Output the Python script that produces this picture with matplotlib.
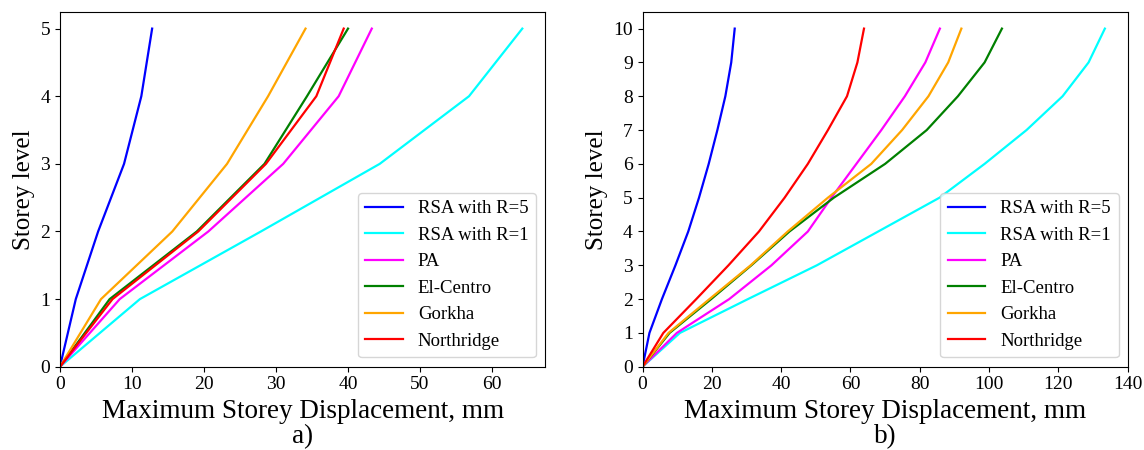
import numpy as np
import matplotlib
matplotlib.use("Agg")
import matplotlib.pyplot as plt

# ==========================================
# DATA
# ==========================================

labels = ["RSA with R=5", "RSA with R=1", "PA", "El-Centro", "Gorkha", "Northridge"]
colors = ["blue", "cyan", "magenta", "green", "orange", "red"]

storeys_5 = [0, 1, 2, 3, 4, 5]
rsa_r5_5 = [0, 2.2, 5.3, 8.9, 11.3, 12.8]
rsa_r1_5 = [0, 11.1, 27.9, 44.4, 56.8, 64.2]
pa_5 = [0, 8.3, 20.6, 31.0, 38.7, 43.3]
elcentro_5 = [0, 6.9, 19.0, 28.4, 34.3, 40.0]
gorkha_5 = [0, 5.7, 15.6, 23.2, 28.9, 34.1]
northridge_5 = [0, 7.3, 19.2, 28.6, 35.6, 39.4]

storeys_10 = [0, 1, 2, 3, 4, 5, 6, 7, 8, 9, 10]
rsa_r5_10 = [0, 2.0, 5.6, 9.5, 13.2, 16.3, 19.1, 21.6, 23.9, 25.6, 26.6]
rsa_r1_10 = [0, 10.8, 30.4, 50.3, 68.0, 85.7, 98.7, 110.8, 121.2, 128.7, 133.4]
pa_10 = [0, 9.9, 25.0, 37.2, 47.7, 54.5, 61.7, 68.9, 75.7, 81.6, 85.8]
elcentro_10 = [0, 7.8, 19.8, 31.4, 42.4, 55.2, 70.0, 82.0, 91.0, 98.7, 103.7]
gorkha_10 = [0, 7.5, 19.3, 31.2, 41.9, 53.5, 66.0, 74.9, 82.5, 88.2, 92.0]
northridge_10 = [0, 6.0, 15.5, 24.8, 33.6, 41.0, 47.7, 53.5, 59.0, 62.0, 63.9]

series_5 = [rsa_r5_5, rsa_r1_5, pa_5, elcentro_5, gorkha_5, northridge_5]
series_10 = [rsa_r5_10, rsa_r1_10, pa_10, elcentro_10, gorkha_10, northridge_10]

# ==========================================
# STYLE
# ==========================================

plt.rcParams["font.family"] = ["Liberation Serif", "DejaVu Serif"]
plt.rcParams["xtick.labelsize"] = 14
plt.rcParams["ytick.labelsize"] = 14

fig, axes = plt.subplots(1, 2, figsize=(11.44, 4.5), dpi=100)
plt.subplots_adjust(left=0.0524, right=0.986, bottom=0.185, top=0.974, wspace=0.2)

panels = [
    (axes[0], storeys_5, series_5, "a)"),
    (axes[1], storeys_10, series_10, "b)"),
]

for ax, storeys, series, tag in panels:

    for values, label, color in zip(series, labels, colors):
        ax.plot(values, storeys, color=color, linewidth=1.6, label=label)

    ax.set_xlim(left=0)
    ax.set_ylim(bottom=0)
    ax.set_yticks(storeys)

    ax.set_xlabel(
        "Maximum Storey Displacement, mm\n" + tag,
        fontsize=19.5,
        linespacing=1.0
    )
    ax.set_ylabel("Storey level", fontsize=18)

    ax.legend(loc="lower right", fontsize=13.5)

plt.savefig("out.png", dpi=100)
plt.close()
